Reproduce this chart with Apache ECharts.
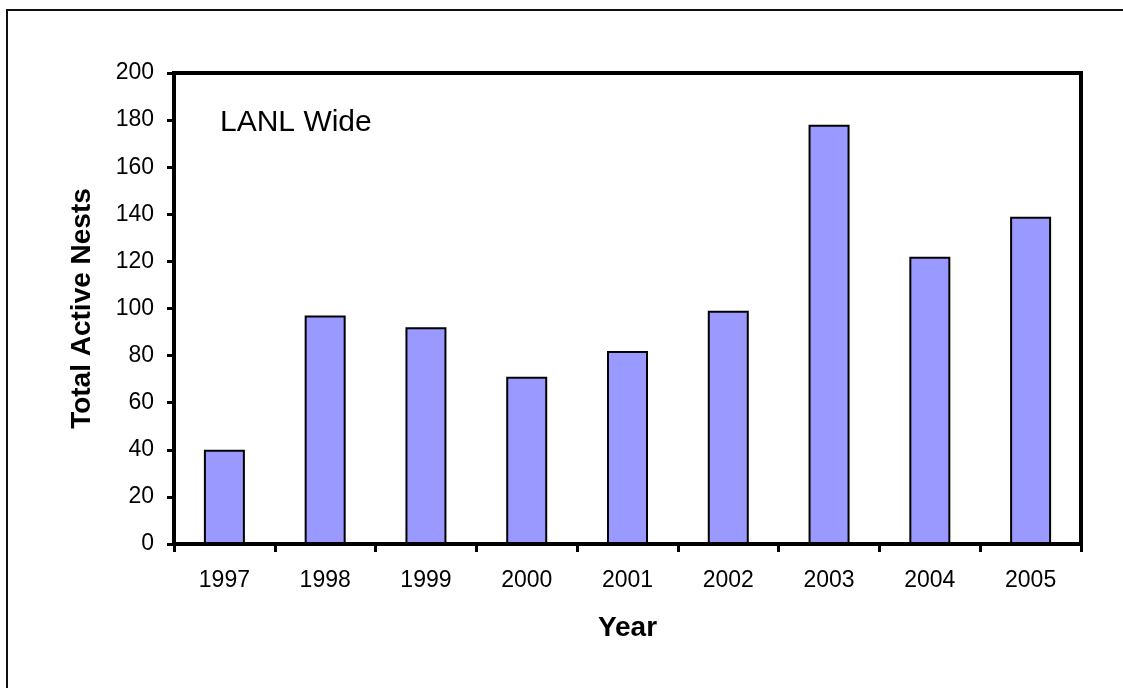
<!DOCTYPE html>
<html>
<head>
<meta charset="utf-8">
<script src="https://cdn.jsdelivr.net/npm/echarts@6/dist/echarts.min.js"></script>
<style>
html, body { margin: 0; padding: 0; background: #fff; }
#chart { width: 1123px; height: 688px; }
</style>
</head>
<body>
<div id="chart"></div>
<script>
// Active nests counted across the laboratory, by survey year
const years = ['1997', '1998', '1999', '2000', '2001', '2002', '2003', '2004', '2005'];
const activeNests = [40, 97, 92, 71, 82, 99, 178, 122, 139];
const yTicks = { min: 0, max: 200, step: 20 };

const font = 'Liberation Sans, Arial, sans-serif';
const chart = echarts.init(document.getElementById('chart'), null, { renderer: 'canvas' });

chart.setOption({
  animation: false,
  backgroundColor: '#fff',
  grid: {
    left: 174, right: 42, top: 73, bottom: 144,
    show: true, borderColor: '#000', borderWidth: 4
  },
  graphic: [
    {
      type: 'rect', silent: true,
      shape: { x: 7, y: 10, width: 1140, height: 700 },
      style: { fill: 'none', stroke: '#111', lineWidth: 2 }
    },
    {
      type: 'text', left: 220, top: 108, silent: true,
      style: { text: 'LANL Wide', font: '30px ' + font, fill: '#000' }
    }
  ],
  xAxis: {
    type: 'category',
    data: years,
    name: 'Year',
    nameLocation: 'middle',
    nameGap: 70,
    nameTextStyle: { fontFamily: font, fontSize: 28, fontWeight: 'bold', color: '#000' },
    axisLine: { lineStyle: { color: '#000', width: 4 } },
    axisTick: { show: true, inside: false, length: 8, lineStyle: { color: '#000', width: 3 } },
    axisLabel: { margin: 25, fontFamily: font, fontSize: 23, color: '#000' },
    splitLine: { show: false }
  },
  yAxis: {
    type: 'value',
    min: yTicks.min, max: yTicks.max, interval: yTicks.step,
    name: 'Total Active Nests',
    nameLocation: 'middle',
    nameGap: 78,
    nameTextStyle: { fontFamily: font, fontSize: 28, fontWeight: 'bold', color: '#000' },
    axisLine: { show: true, lineStyle: { color: '#000', width: 4 } },
    axisTick: { show: true, inside: false, length: 7, lineStyle: { color: '#000', width: 3 } },
    axisLabel: { margin: 20, fontFamily: font, fontSize: 23, color: '#000' },
    splitLine: { show: false }
  },
  series: [{
    type: 'bar',
    data: activeNests,
    barWidth: 41,
    itemStyle: { color: '#9999FF', borderColor: '#000', borderWidth: 2 }
  }]
});
</script>
</body>
</html>
